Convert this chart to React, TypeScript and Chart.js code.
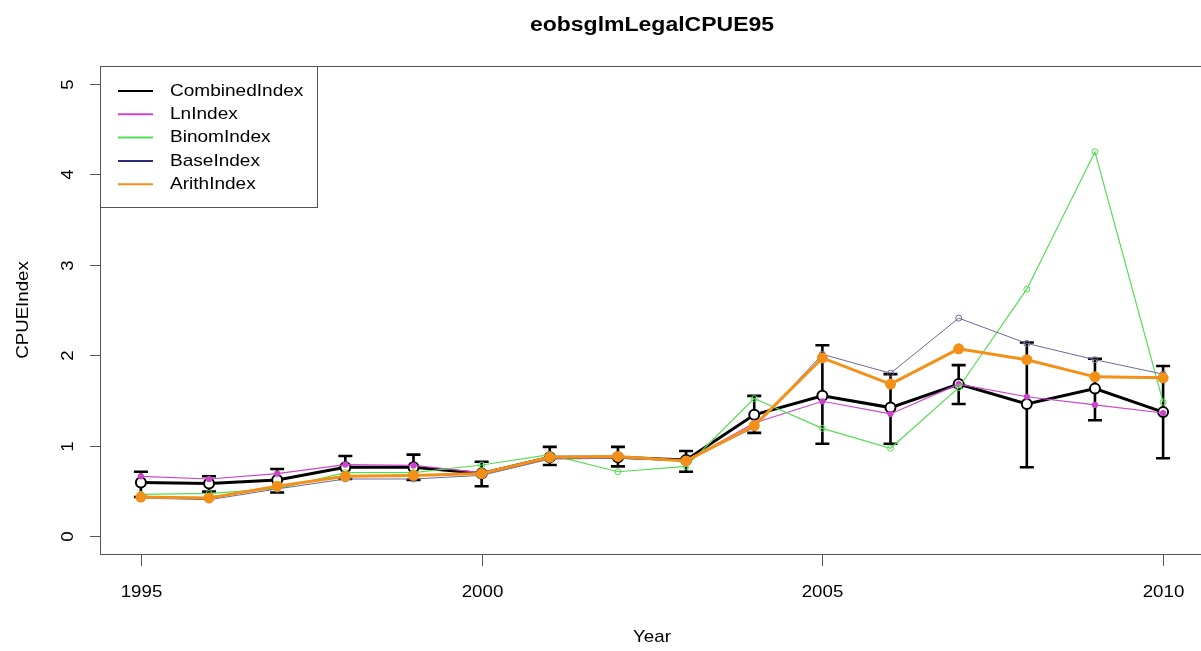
import React, { useEffect, useRef } from "react";
import { Chart, registerables } from "chart.js";

Chart.register(...registerables);

const years = [1995, 1996, 1997, 1998, 1999, 2000, 2001, 2002, 2003, 2004, 2005, 2006, 2007, 2008, 2009, 2010];
const combinedIndex = [0.59, 0.58, 0.62, 0.76, 0.76, 0.69, 0.87, 0.87, 0.84, 1.34, 1.55, 1.42, 1.68, 1.46, 1.63, 1.37];
const combinedUpper = [0.71, 0.66, 0.74, 0.885, 0.9, 0.82, 0.985, 0.985, 0.94, 1.55, 2.11, 1.79, 1.89, 2.14, 1.96, 1.88];
const combinedLower = [0.43, 0.49, 0.48, 0.63, 0.62, 0.55, 0.785, 0.77, 0.71, 1.14, 1.02, 1.02, 1.46, 0.76, 1.28, 0.86];
const lnIndex = [0.66, 0.63, 0.69, 0.79, 0.78, 0.7, 0.87, 0.88, 0.83, 1.25, 1.49, 1.35, 1.68, 1.54, 1.45, 1.36];
const binomIndex = [0.46, 0.47, 0.52, 0.7, 0.7, 0.785, 0.9, 0.71, 0.77, 1.52, 1.19, 0.97, 1.64, 2.73, 4.25, 1.48];
const baseIndex = [0.42, 0.4, 0.52, 0.63, 0.63, 0.67, 0.85, 0.86, 0.83, 1.2, 2.01, 1.8, 2.41, 2.13, 1.95, 1.79];
const arithIndex = [0.43, 0.42, 0.55, 0.66, 0.67, 0.69, 0.87, 0.88, 0.83, 1.22, 1.97, 1.68, 2.07, 1.95, 1.76, 1.75];
const xTickValues = [1995, 2000, 2005, 2010];
const yTickValues = [0, 1, 2, 3, 4, 5];
const seriesNames = ["CombinedIndex", "LnIndex", "BinomIndex", "BaseIndex", "ArithIndex"];
const seriesColors = ["#000000", "#CC44CC", "#55DD55", "#2C2C78", "#F39019"];

const FONT = "'Liberation Sans', Arial, sans-serif";

function pts(vals: number[]) {
  return years.map((y, i) => ({ x: y, y: vals[i] }));
}

function stretchText(ctx: any, text: string, x: number, y: number, sx: number, rot = 0) {
  ctx.save();
  ctx.translate(x, y);
  if (rot) ctx.rotate(rot);
  ctx.scale(sx, 1);
  ctx.fillText(text, 0, 0);
  ctx.restore();
}

const rPlugin = {
  id: "rstyle",
  beforeDatasetsDraw(chart: any) {
    const { ctx, scales } = chart;
    const xs = scales.x;
    const ys = scales.y;
    ctx.save();
    ctx.strokeStyle = "#000";
    ctx.lineWidth = 2.6;
    ctx.lineCap = "butt";
    years.forEach((yr, i) => {
      const px = xs.getPixelForValue(yr);
      const pt = ys.getPixelForValue(combinedUpper[i]);
      const pb = ys.getPixelForValue(combinedLower[i]);
      ctx.beginPath();
      ctx.moveTo(px, pt);
      ctx.lineTo(px, pb);
      ctx.moveTo(px - 7, pt);
      ctx.lineTo(px + 7, pt);
      ctx.moveTo(px - 7, pb);
      ctx.lineTo(px + 7, pb);
      ctx.stroke();
    });
    ctx.restore();
  },
  afterDraw(chart: any) {
    const { ctx, chartArea, scales } = chart;
    const xs = scales.x;
    const ys = scales.y;
    const { left, top, right, bottom } = chartArea;
    const SX = 1.1;
    ctx.save();
    ctx.strokeStyle = "#555";
    ctx.lineWidth = 1;
    ctx.strokeRect(left + 0.5, top + 0.5, right - left, bottom - top);
    ctx.fillStyle = "#000";
    ctx.font = `17px ${FONT}`;
    ctx.textAlign = "center";
    ctx.textBaseline = "middle";
    xTickValues.forEach((v) => {
      const px = Math.round(xs.getPixelForValue(v)) + 0.5;
      ctx.beginPath();
      ctx.moveTo(px, bottom);
      ctx.lineTo(px, bottom + 12);
      ctx.stroke();
      stretchText(ctx, String(v), px, 592, SX);
    });
    yTickValues.forEach((v) => {
      const py = Math.round(ys.getPixelForValue(v)) + 0.5;
      ctx.beginPath();
      ctx.moveTo(left, py);
      ctx.lineTo(left - 10, py);
      ctx.stroke();
      stretchText(ctx, String(v), 68, py, SX, -Math.PI / 2);
    });
    ctx.font = `bold 20px ${FONT}`;
    stretchText(ctx, "eobsglmLegalCPUE95", 652, 25, 1.15);
    ctx.font = `17px ${FONT}`;
    stretchText(ctx, "Year", 652, 637, SX);
    stretchText(ctx, "CPUEIndex", 23, (top + bottom) / 2, SX, -Math.PI / 2);
    // legend
    ctx.fillStyle = "#fff";
    ctx.fillRect(left + 0.5, top + 0.5, 217, 141);
    ctx.strokeStyle = "#555";
    ctx.strokeRect(left + 0.5, top + 0.5, 217, 141);
    ctx.textAlign = "left";
    seriesNames.forEach((name, i) => {
      const y = 91 + i * 23.3;
      ctx.strokeStyle = seriesColors[i];
      ctx.lineWidth = 2;
      ctx.beginPath();
      ctx.moveTo(118, y);
      ctx.lineTo(153, y);
      ctx.stroke();
      ctx.fillStyle = "#000";
      stretchText(ctx, name, 170, y, 1.12);
    });
    ctx.restore();
  },
};

export default function App() {
  const ref = useRef<HTMLCanvasElement | null>(null);
  useEffect(() => {
    if (!ref.current) return;
    const chart = new Chart(ref.current, {
      type: "line",
      data: {
        datasets: [
          {
            label: seriesNames[0],
            data: pts(combinedIndex),
            borderColor: seriesColors[0],
            borderWidth: 3,
            pointRadius: 5,
            pointBorderWidth: 2,
            pointBackgroundColor: "#fff",
            pointBorderColor: "#000",
            order: 5,
          },
          {
            label: seriesNames[1],
            data: pts(lnIndex),
            borderColor: seriesColors[1],
            borderWidth: 1.2,
            pointRadius: 2.5,
            pointBackgroundColor: seriesColors[1],
            pointBorderColor: seriesColors[1],
            order: 4,
          },
          {
            label: seriesNames[2],
            data: pts(binomIndex),
            borderColor: seriesColors[2],
            borderWidth: 1.2,
            pointRadius: 3,
            pointBorderWidth: 1,
            pointBackgroundColor: "rgba(255,255,255,0)",
            pointBorderColor: seriesColors[2],
            order: 3,
          },
          {
            label: seriesNames[3],
            data: pts(baseIndex),
            borderColor: "#6A6A98",
            borderWidth: 1,
            pointRadius: 3,
            pointBorderWidth: 1,
            pointBackgroundColor: "rgba(255,255,255,0)",
            pointBorderColor: "#6A6A98",
            order: 2,
          },
          {
            label: seriesNames[4],
            data: pts(arithIndex),
            borderColor: seriesColors[4],
            borderWidth: 3,
            pointRadius: 4,
            pointBackgroundColor: seriesColors[4],
            pointBorderColor: seriesColors[4],
            order: 1,
          },
        ],
      },
      options: {
        responsive: false,
        animation: false,
        layout: { padding: { left: 100, top: 66, right: 16, bottom: 97 } },
        plugins: { legend: { display: false }, title: { display: false }, tooltip: { enabled: false } },
        elements: { line: { tension: 0 } },
        scales: {
          x: { type: "linear", min: 1994.4, max: 2010.6, display: false },
          y: { type: "linear", min: -0.2, max: 5.2, display: false },
        },
      },
      plugins: [rPlugin],
    });
    return () => chart.destroy();
  }, []);
  return (
    <div style={{ position: "fixed", left: 0, top: 0, width: 1201, height: 651, overflow: "hidden", background: "#fff" }}>
      <canvas ref={ref} width={1220} height={651} style={{ display: "block" }} />
    </div>
  );
}
